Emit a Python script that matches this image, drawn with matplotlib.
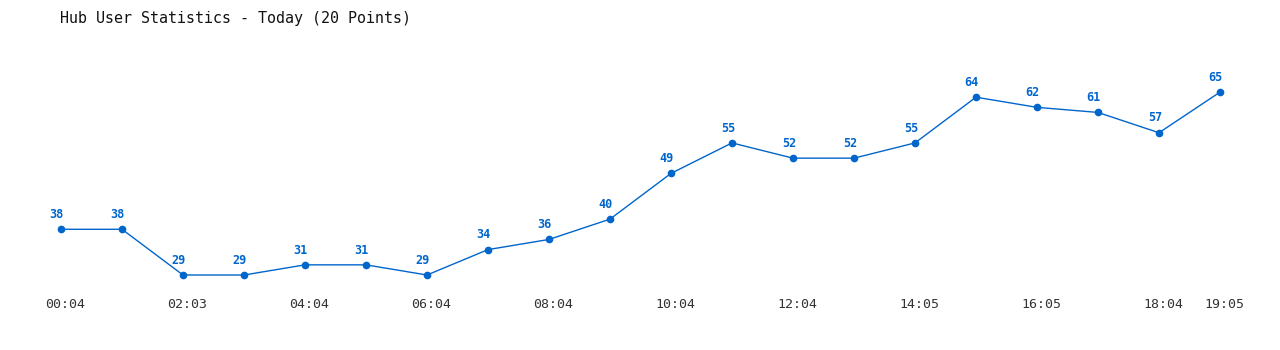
import matplotlib
matplotlib.use("Agg")
import matplotlib.pyplot as plt

# data
times = ["00:04", "01:04", "02:03", "03:04", "04:04", "05:04", "06:04", "07:04",
         "08:04", "09:04", "10:04", "11:04", "12:04", "13:04", "14:05", "15:05",
         "16:05", "17:04", "18:04", "19:05"]
users = [38, 38, 29, 29, 31, 31, 29, 34, 36, 40, 49, 55, 52, 52, 55, 64, 62, 61, 57, 65]
shown_ticks = [0, 2, 4, 6, 8, 10, 12, 14, 16, 18, 19]

color = "#0066cc"
mono = "DejaVu Sans Mono"

fig = plt.figure(figsize=(12.8, 3.5), dpi=100)
ax = fig.add_axes([0, 0, 1, 1])
x = list(range(len(users)))

ax.plot(x, users, color=color, linewidth=1, marker="o", markersize=4.5)
for i, v in zip(x, users):
    ax.annotate(str(v), (i, v), xytext=(-3, 6), textcoords="offset points",
                ha="center", va="bottom", fontsize=8.5, fontweight="bold",
                color=color, family=mono)

# time labels under the line
for i in shown_ticks:
    ax.annotate(times[i], (i, 1 - 304 / 350), xycoords=("data", "figure fraction"),
                xytext=(3, 0), textcoords="offset points", ha="center",
                va="center", fontsize=9.5, color="#333333", family=mono)

ax.set_xlim(-1, 1219 / 61)
ax.set_ylim(14.24, 83.13)
ax.axis("off")

fig.text(60 / 1280, 1 - 18 / 350, "Hub User Statistics - Today (20 Points)",
         fontsize=10.8, family=mono, color="#111111", ha="left", va="center")

fig.savefig("out.png", dpi=100)
